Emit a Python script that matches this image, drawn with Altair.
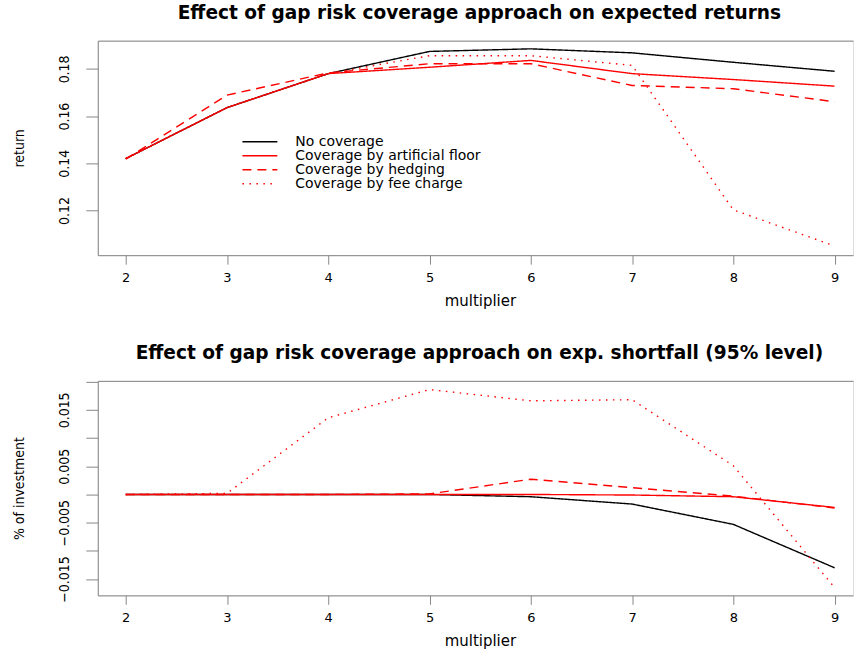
import altair as alt
import pandas as pd

# Multiplier values on the x axis
multipliers = [2, 3, 4, 5, 6, 7, 8, 9]

series_names = [
    "No coverage",
    "Coverage by artificial floor",
    "Coverage by hedging",
    "Coverage by fee charge",
]

# Expected returns per coverage approach
ret_none = [0.1420, 0.1636, 0.1780, 0.1874, 0.1885, 0.1868, 0.1828, 0.1790]
ret_floor = [0.1420, 0.1636, 0.1780, 0.1807, 0.1836, 0.1780, 0.1755, 0.1727]
ret_hedge = [0.1418, 0.1689, 0.1783, 0.1822, 0.1822, 0.1730, 0.1716, 0.1661]
ret_fee = [0.1420, 0.1636, 0.1780, 0.1856, 0.1856, 0.1815, 0.1203, 0.1050]

# Expected shortfall (95% level), as share of investment
es_none = [0.0, 0.0, 0.0, 0.0, -0.0004, -0.0017, -0.0053, -0.0130]
es_floor = [0.0, 0.0, 0.0, 0.0, 0.0, -0.0001, -0.0004, -0.0023]
es_hedge = [0.0, 0.0, 0.0, 0.0001, 0.0027, 0.0012, -0.0003, -0.0024]
es_fee = [0.0, 0.0002, 0.0136, 0.0186, 0.0166, 0.0168, 0.0051, -0.0165]

ret_ticks = [0.12, 0.14, 0.16, 0.18]
es_ticks = [-0.015, -0.01, -0.005, 0.0, 0.005, 0.01, 0.015, 0.02]

series_colors = ["#000000", "#ff0000", "#ff0000", "#ff0000"]
series_dashes = [[1, 0], [1, 0], [9, 6], [1.5, 5.5]]

W, H = 757, 215
X_DOMAIN = [1.724, 9.182]

H_FONT = "DejaVu Sans"
V_FONT = "Liberation Sans Narrow, DejaVu Sans Condensed, Liberation Sans"


def long_table(columns):
    rows = []
    for name, values in zip(series_names, columns):
        for m, v in zip(multipliers, values):
            rows.append({"multiplier": m, "series": name, "value": v})
    return pd.DataFrame(rows)


def panel(df, title, ytitle, ydomain, yticks, label_expr, legend_y):
    legend = alt.Legend(
        orient="none", legendX=144, legendY=legend_y, title=None,
        symbolType="stroke", symbolSize=1225, symbolStrokeWidth=1.4,
        labelFont=H_FONT, labelFontSize=14, labelColor="black",
        labelLimit=0, labelOffset=17, clipHeight=13.7, rowPadding=-1.8,
        padding=0,
    )
    lines = alt.Chart(df).mark_line(strokeWidth=1.4).encode(
        x=alt.X(
            "multiplier:Q",
            scale=alt.Scale(domain=X_DOMAIN, nice=False, zero=False),
            axis=alt.Axis(
                values=multipliers, format="d", title="multiplier",
                titleX=383, titleY=50, titleAnchor="middle",
                titleBaseline="alphabetic", titleFont=H_FONT,
                titleFontSize=15, titleFontWeight="normal",
                labelFont=H_FONT, labelFontSize=13, tickSize=9,
                labelPadding=7, labelFlush=False, grid=False,
            ),
        ),
        y=alt.Y(
            "value:Q",
            scale=alt.Scale(domain=ydomain, nice=False, zero=False),
            axis=alt.Axis(
                values=yticks, labelExpr=label_expr, title=ytitle,
                titleX=-78, titleY=H / 2, titleAngle=270,
                titleAlign="center", titleBaseline="middle",
                titleFont=V_FONT, titleFontSize=14, titleFontWeight="normal",
                labelFont=V_FONT, labelFontSize=14, labelAngle=270,
                labelAlign="center", labelBaseline="bottom",
                tickSize=12, labelPadding=14, labelOverlap=False,
                labelFlush=False, grid=False,
            ),
        ),
        color=alt.Color(
            "series:N",
            scale=alt.Scale(domain=series_names, range=series_colors),
            legend=legend,
        ),
        strokeDash=alt.StrokeDash(
            "series:N",
            scale=alt.Scale(domain=series_names, range=series_dashes),
            legend=legend,
        ),
    )
    # upper edge of the plot frame
    frame_top = alt.Chart(df).mark_point(opacity=0).encode(
        x=alt.X(
            "multiplier:Q",
            axis=alt.Axis(orient="top", labels=False, ticks=False,
                          title=None, domain=True, grid=False,
                          minExtent=0, maxExtent=0),
        ),
    )
    return (
        alt.layer(lines, frame_top)
        .resolve_axis(x="independent")
        .properties(
            width=W, height=H,
            title=alt.TitleParams(
                title, anchor="middle", frame="group", dx=4, offset=3.5,
                baseline="alphabetic", font=H_FONT, fontSize=18.6,
                fontWeight="bold", color="black",
            ),
        )
    )


top = panel(
    long_table([ret_none, ret_floor, ret_hedge, ret_fee]),
    "Effect of gap risk coverage approach on expected returns",
    "return", [0.10111, 0.19196], ret_ticks,
    "format(datum.value, '.2f')", 94.5,
)
bottom = panel(
    long_table([es_none, es_floor, es_hedge, es_fee]),
    "Effect of gap risk coverage approach on exp. shortfall (95% level)",
    "% of investment", [-0.01789, 0.02014], es_ticks,
    "(abs(abs(datum.value) - 0.005) < 1e-9 || abs(abs(datum.value) - 0.015) < 1e-9)"
    " ? format(datum.value, '.3f') : ''",
    137.5,
)

chart = (
    alt.vconcat(top, bottom, spacing=126, bounds="flush")
    .properties(padding={"left": 12, "top": 2, "right": 0, "bottom": 0})
    .configure_view(stroke=None)
    .configure_axis(
        grid=False, domainColor="black", tickColor="black",
        labelColor="black", titleColor="black", domainWidth=1, tickWidth=1,
    )
    .configure(background="white")
)

chart.save("out.html", embed_options={"renderer": "svg", "actions": False})
